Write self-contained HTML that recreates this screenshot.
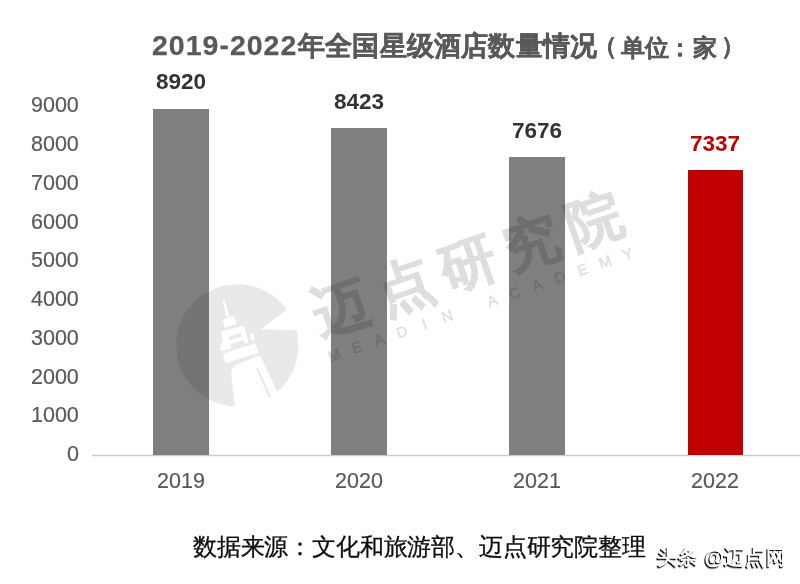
<!DOCTYPE html>
<html><head><meta charset="utf-8">
<style>
html,body{margin:0;padding:0;background:#fff;}
body{width:800px;height:584px;position:relative;overflow:hidden;font-family:"Liberation Sans",sans-serif;}
.a,.yl,.xl,.dl{will-change:transform;}
.a{position:absolute;white-space:nowrap;line-height:1;}
.bar{position:absolute;background:#7f7f7f;}
.yl{position:absolute;right:721.5px;font-size:21.5px;color:#595959;-webkit-text-stroke:0.2px #595959;line-height:1;white-space:nowrap;}
.xl{position:absolute;font-size:21.5px;color:#595959;-webkit-text-stroke:0.2px #595959;line-height:1;width:100px;text-align:center;top:471px;}
.dl{position:absolute;font-size:22.5px;font-weight:bold;color:#333;line-height:1;width:100px;text-align:center;}
.tt{font-weight:bold;color:#595959;-webkit-text-stroke:0.25px #595959;}
svg{position:absolute;left:0;top:0;}
</style></head>
<body>
<span class="a tt" style="left:152px;top:30.5px;font-size:28.5px;letter-spacing:1px">2019-2022</span>
<span class="a tt" style="left:298px;top:33px;font-size:27px;letter-spacing:0.2px;-webkit-text-stroke:0.4px #595959">年全国星级酒店数量情况</span>
<span class="a tt" style="left:592.5px;top:34px;font-size:24px">（</span>
<span class="a tt" style="left:620.5px;top:35.5px;font-size:24px">单位</span>
<span class="a tt" style="left:667.75px;top:35.5px;font-size:24px">：</span>
<span class="a tt" style="left:692.5px;top:36px;font-size:24px">家</span>
<span class="a tt" style="left:720.5px;top:34px;font-size:24px">）</span>

<div class="yl" style="top:95.3px">9000</div>
<div class="yl" style="top:134.1px">8000</div>
<div class="yl" style="top:172.8px">7000</div>
<div class="yl" style="top:211.6px">6000</div>
<div class="yl" style="top:250.3px">5000</div>
<div class="yl" style="top:289.1px">4000</div>
<div class="yl" style="top:327.8px">3000</div>
<div class="yl" style="top:366.6px">2000</div>
<div class="yl" style="top:405.3px">1000</div>
<div class="yl" style="top:444.1px">0</div>

<div style="position:absolute;left:92px;top:455px;width:708px;height:1px;background:#cbcbcb;box-shadow:0 1px 0 #f2f2f2,0 -1px 0 #f2f2f2"></div>
<div class="bar" style="left:153px;top:108.7px;width:55.5px;height:346.3px"></div>
<div class="bar" style="left:331.25px;top:128px;width:55.5px;height:327px"></div>
<div class="bar" style="left:509.4px;top:156.9px;width:55.5px;height:298.1px"></div>
<div class="bar" style="left:687.5px;top:170.2px;width:55.5px;height:284.8px;background:#c00000"></div>


<div class="dl" style="left:130.75px;top:71.3px">8920</div>
<div class="dl" style="left:309px;top:90.6px">8423</div>
<div class="dl" style="left:487.25px;top:119.6px">7676</div>
<div class="dl" style="left:665.25px;top:133.1px;color:#c00000">7337</div>

<div class="xl" style="left:130.75px">2019</div>
<div class="xl" style="left:309px">2020</div>
<div class="xl" style="left:487.25px">2021</div>
<div class="xl" style="left:665.25px">2022</div>

<svg width="800" height="584" viewBox="0 0 800 584">
<defs><clipPath id="cc"><circle cx="237.4" cy="346.1" r="61.2"/></clipPath></defs>
<g fill="rgba(0,0,0,0.085)">
<path d="M296.5 330 A61.2 61.2 0 1 1 286.8 309.5 L260.6 329.5 Z"/>
</g>
<g clip-path="url(#cc)">
<g fill="#fff">
<path d="M222.7 319.3 L233.8 315.9 L236.8 324 L224.8 327.8 Z"/>
<path d="M221 331.3 L244.1 326.1 L248.5 343 L223.5 350.5 Z"/>
<path d="M220.1 343.3 L223.6 342.3 L225 350 L221.5 351 Z"/>
<path d="M249.7 333.4 L253 332.6 L254.8 340 L251.5 341 Z"/>
<path d="M223 353.7 L255.2 343.6 L258.5 352.5 L225.5 363.5 Z"/>
<path d="M231 373 Q231.5 367 238 364 L260.3 355.4 L290 420 L236.5 420 Z"/>
</g>
<g fill="none" stroke="#fff" stroke-width="2.2"><path d="M223.4 300.1 L228 317"/></g>
<g fill="rgba(0,0,0,0.085)">
<path d="M228.7 336.4 L240.7 333 L241.5 336.8 L229.6 340.3 Z"/>
<path d="M230.5 344 L244 340 L245 344 L231.5 348 Z"/>
</g>
<g fill="none" stroke="rgba(0,0,0,0.085)" stroke-width="2.2"><path d="M257 368.2 L271 399"/></g>
</g>
<g transform="translate(470 261) rotate(-19)" fill="#000" opacity="0.13" style="font-family:'Liberation Sans',sans-serif;font-weight:bold">
<text x="-136.6 -69.8 -3.0 63.8 130.6" y="2" font-size="56" text-anchor="middle" dominant-baseline="central" stroke="#000" stroke-width="1">迈点研究院</text>
<text x="-159.0 -135.2 -111.3 -87.4 -63.6 -39.7 -15.8 8.0 31.9 55.8 79.7 103.5 127.4 151.3" y="44.5" font-size="15" text-anchor="middle" dominant-baseline="central" font-weight="normal" stroke="#000" stroke-width="0.5">MEADIN ACADEMY</text>
</g>
</svg>

<div class="a" id="src" style="left:193px;top:534.5px;font-size:24px;letter-spacing:-0.17px;color:#0d0d0d;-webkit-text-stroke:0.3px #0d0d0d;">数据来源：文化和旅游部、迈点研究院整理</div>
<div class="a" id="tt" style="left:657px;top:546.5px;font-size:20px;letter-spacing:0.6px;font-weight:bold;color:#fff;text-shadow:-1px 1px 0.6px #000,-1px 1.5px 1px rgba(0,0,0,0.35);">头条 @迈点网</div>
</body></html>
